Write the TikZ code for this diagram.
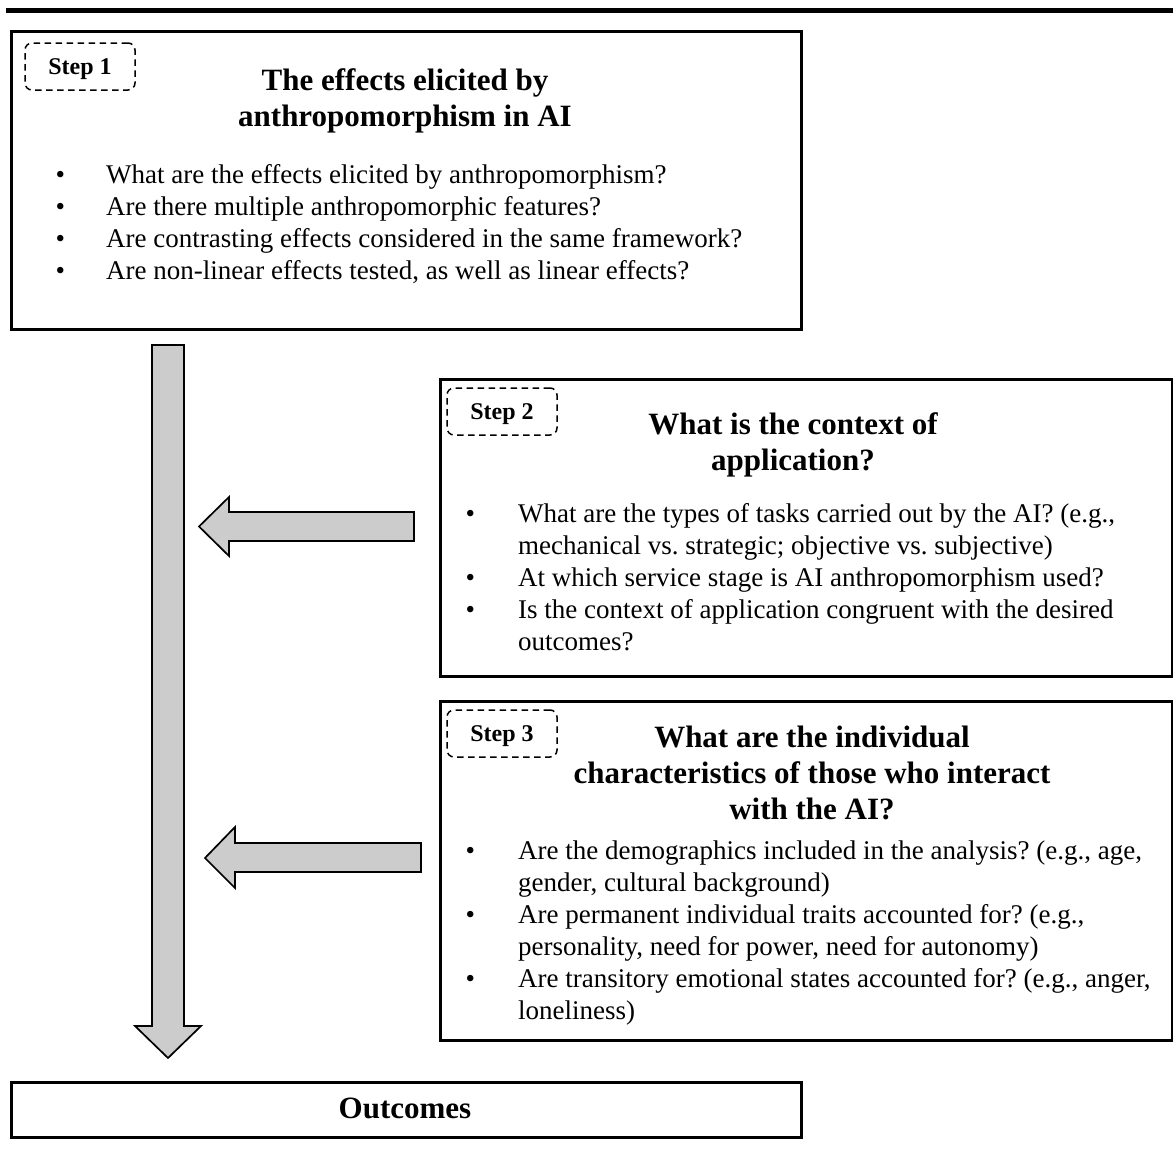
\documentclass[tikz,border=0pt]{standalone}
\usepackage{fontspec}
\setmainfont{Liberation Serif}
\usepackage{array}
\usetikzlibrary{positioning}
\frenchspacing
\tikzset{
  frameln/.style={draw, line width=3pt, inner sep=0pt, anchor=north west},
  stepbox/.style={draw, dash pattern=on 6.5pt off 4.5pt, line width=1.5pt, rounded corners=7pt,
    minimum width=110pt, minimum height=47pt, inner sep=0pt, text depth=0pt,
    font=\fontsize{24}{28}\selectfont\bfseries},
  titletxt/.style={inner sep=0pt, anchor=base, font=\fontsize{31}{36}\selectfont\bfseries},
  listtxt/.style={inner sep=0pt, anchor=base west, font=\fontsize{27}{32}\selectfont},
  blockarrow/.style={fill=black!20, draw=black, line width=1.7pt, line join=miter},
}
\begin{document}
\begin{tikzpicture}[x=1pt, y=-1pt]
        \useasboundingbox (0,0) rectangle (1173,1151);
        % heavy rule along the top
        \draw[line width=5pt] (6,10.5) -- (1173,10.5);
        % the four frames
        \node[frameln, minimum width=790pt, minimum height=298pt] (effects) at (10,30) {};
        \node[frameln, minimum width=732pt, minimum height=297pt] (context) at (439,378) {};
        \node[frameln, minimum width=732pt, minimum height=339pt] (individual) at (439,700) {};
        \node[frameln, minimum width=790pt, minimum height=55pt] (outcomes) at (10,1081) {};
        \node[titletxt] (outcomesttl) at (405,1118) {Outcomes};
        % step tags
        \node[stepbox] (step1) at (80,66.5) {Step 1};
        \node[stepbox] (step2) at (502,411.5) {Step 2};
        \node[stepbox] (step3) at (502,733.5) {Step 3};
        % headings
        \node[titletxt] (effectsttl) at (405,90)
          {\begin{tabular}[t]{@{}c@{}}The effects elicited by\\anthropomorphism in AI\end{tabular}};
        \node[titletxt] (contextttl) at (793,434)
          {\begin{tabular}[t]{@{}c@{}}What is the context of\\application?\end{tabular}};
        \node[titletxt] (individualttl) at (812,747)
          {\begin{tabular}[t]{@{}c@{}}What are the individual\\characteristics of those who interact\\with the AI?\end{tabular}};
        % questions
        \node[listtxt] (effectslist) at (55.3,183)
          {\begin{tabular}[t]{@{}p{50.7pt}@{}l@{}}
            \textbullet & What are the effects elicited by anthropomorphism?\\
            \textbullet & Are there multiple anthropomorphic features?\\
            \textbullet & Are contrasting effects considered in the same framework?\\
            \textbullet & Are non-linear effects tested, as well as linear effects?
          \end{tabular}};
        \node[listtxt] (contextlist) at (465.3,522)
          {\begin{tabular}[t]{@{}p{52.7pt}@{}l@{}}
            \textbullet & What are the types of tasks carried out by the AI? (e.g.,\\
             & mechanical vs. strategic; objective vs. subjective)\\
            \textbullet & At which service stage is AI anthropomorphism used?\\
            \textbullet & Is the context of application congruent with the desired\\
             & outcomes?
          \end{tabular}};
        \node[listtxt] (individuallist) at (465.3,859)
          {\begin{tabular}[t]{@{}p{52.7pt}@{}l@{}}
            \textbullet & Are the demographics included in the analysis? (e.g., age,\\
             & gender, cultural background)\\
            \textbullet & Are permanent individual traits accounted for? (e.g.,\\
             & personality, need for power, need for autonomy)\\
            \textbullet & Are transitory emotional states accounted for? (e.g., anger,\\
             & loneliness)
          \end{tabular}};
        % block arrows
        \draw[blockarrow] (152,345) -- (184,345) -- (184,1026) -- (201,1026)
          -- (168,1058) -- (135,1026) -- (152,1026) -- cycle;
        \draw[blockarrow] (414,512) -- (229,512) -- (229,497) -- (199,526.5)
          -- (229,556) -- (229,541) -- (414,541) -- cycle;
        \draw[blockarrow] (421,843) -- (235,843) -- (235,827) -- (205,858)
          -- (235,888) -- (235,872) -- (421,872) -- cycle;
      \end{tikzpicture}
\end{document}
